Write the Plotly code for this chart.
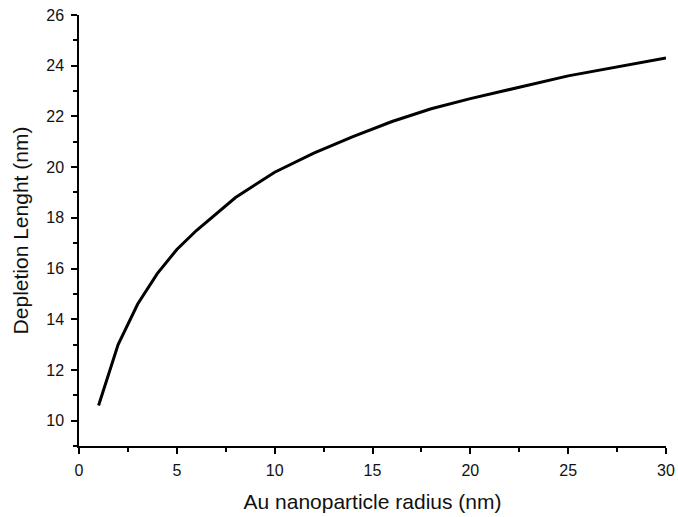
import plotly.graph_objects as go

radius_nm = [1, 2, 3, 4, 5, 6, 8, 10, 12, 14, 16, 18, 20, 25, 30]
depletion_nm = [10.6, 13.0, 14.6, 15.8, 16.75, 17.5, 18.8, 19.8, 20.55, 21.2, 21.8, 22.3, 22.7, 23.6, 24.3]

fig = go.Figure()
fig.add_trace(go.Scatter(x=radius_nm, y=depletion_nm, mode="lines",
                         line=dict(color="black", width=3), showlegend=False))

font = "Liberation Sans, Arial, sans-serif"
fig.update_layout(
    width=678, height=517,
    margin=dict(l=79, r=12, t=15, b=71, autoexpand=False),
    paper_bgcolor="white", plot_bgcolor="white",
    font=dict(family=font, size=16, color="#111111"),
    xaxis=dict(range=[0, 30], tick0=0, dtick=5, showgrid=False, zeroline=False,
               showline=True, linecolor="black", linewidth=1.5, automargin=False,
               ticks="outside", ticklen=6, tickwidth=1.5, tickcolor="black",
               minor=dict(dtick=2.5, tick0=0, ticks="outside", ticklen=4, tickwidth=1.5, tickcolor="black"),
               title=dict(text="Au nanoparticle radius (nm)", font=dict(size=21), standoff=16),
               tickfont=dict(size=16), ticklabelstandoff=3),
    yaxis=dict(range=[9, 26], tick0=0, dtick=2, showgrid=False, zeroline=False,
               showline=True, linecolor="black", linewidth=1.5, automargin=False,
               ticks="outside", ticklen=6, tickwidth=1.5, tickcolor="black",
               minor=dict(dtick=1, tick0=0, ticks="outside", ticklen=4, tickwidth=1.5, tickcolor="black"),
               title=dict(text="Depletion Lenght (nm)", font=dict(size=21), standoff=12),
               tickfont=dict(size=16), ticklabelstandoff=4),
)
fig.write_html("out.html")
